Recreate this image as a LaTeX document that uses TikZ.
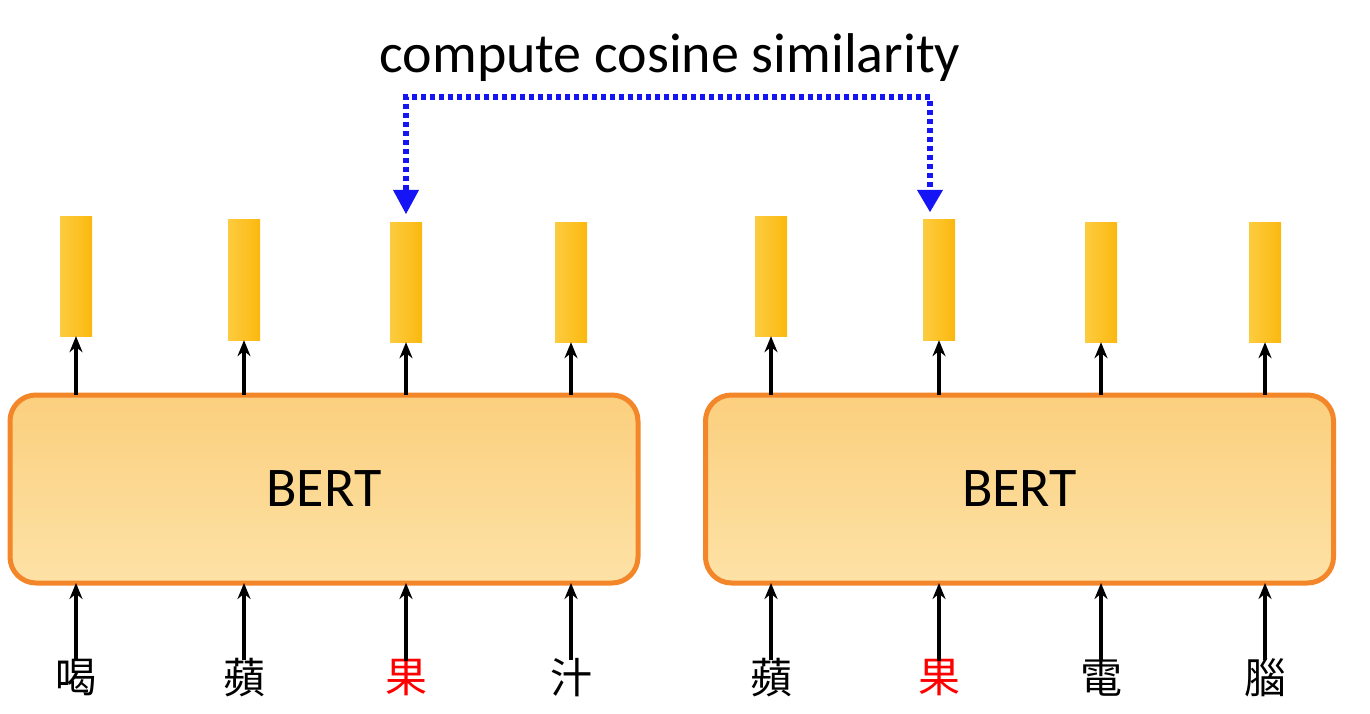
\documentclass[tikz,border=0pt]{standalone}
\usepackage{fontspec}
\setmainfont{Carlito}
\newfontfamily\cjk{Noto Sans CJK TC}
\usetikzlibrary{arrows.meta}
\definecolor{bord}{HTML}{F4862A}
\definecolor{vec}{HTML}{FBBF10}
\definecolor{dblue}{HTML}{1414F5}
\definecolor{ftop}{HTML}{FBCF7E}
\definecolor{fbot}{HTML}{FDE2A6}
\tikzset{
 bert/.style={draw=bord,line width=5pt,rounded corners=26pt,top color=ftop,bottom color=fbot,minimum width=628pt,minimum height=188pt,font=\fontsize{56}{60}\selectfont},
 vecbox/.style={draw=none,left color=vec!80!white,right color=vec!90!orange,minimum width=32pt,minimum height=120pt,inner sep=0pt},
 arr/.style={-{Stealth[length=16pt,width=13pt]},line width=4pt},
 tok/.style={font=\cjk\fontsize{42}{44}\selectfont},
 sim/.style={dblue,line width=6pt,dash pattern=on 5pt off 4pt}
}
\begin{document}
\begin{tikzpicture}[x=1pt,y=-1pt]
\useasboundingbox (0,0) rectangle (1370,714);
\node[bert] (b1) at (324,489) {BERT};
\node[bert] (b2) at (1019.5,489) {BERT};
\node[font=\fontsize{56}{60}\selectfont] (t) at (670,58) {compute cosine similarity};
\foreach \n/\x/\yt/\yb/\c/\col in {a/76/216/336/喝/black, b/244/219/340/蘋/black, c/406/222/342/果/red, d/571/222/342/汁/black, e/771/216/336/蘋/black, f/939/219/340/果/red, g/1101/222/342/電/black, h/1265/222/342/腦/black}{
  \node[vecbox,minimum height=\yb-\yt] (v\n) at (\x,{(\yt+\yb)/2}) {};
  \coordinate (bt\n) at (\x,395);
  \coordinate (bb\n) at (\x,583);
  \node[tok,text=\col] (w\n) at (\x,678) {\c};
  \draw[arr] (bt\n) -- (v\n.south);
  \draw[arr] ([yshift=-5pt]w\n.north) -- (bb\n);
}
\coordinate (q1) at (406,190);
\coordinate (q2) at (930,190);
\coordinate (p1) at (406,97);
\coordinate (p2) at (930,97);
\draw[sim] (q1) -- (p1) -- (p2) -- (q2);
\fill[dblue] (393,190) -- (419,190) -- (406,214) -- cycle;
\fill[dblue] (917,190) -- (943,190) -- (930,212) -- cycle;
\end{tikzpicture}
\end{document}
